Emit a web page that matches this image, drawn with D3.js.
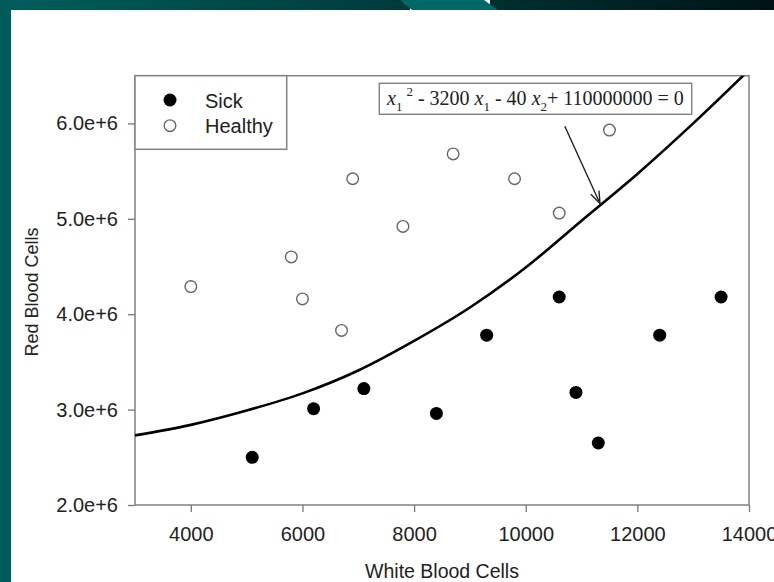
<!DOCTYPE html>
<html>
<head>
<meta charset="utf-8">
<script src="https://cdn.jsdelivr.net/npm/d3@7"></script>
<style>
  body { margin: 0; background: #fff; }
  text { font-family: "Liberation Sans", Arial, sans-serif; }
</style>
</head>
<body>
<script>
// data
const sickX = [5100, 6200, 7100, 8400, 9300, 10600, 10900, 11300, 12400, 13500];
const sickY = [2.50e6, 3.01e6, 3.22e6, 2.96e6, 3.78e6, 4.18e6, 3.18e6, 2.65e6, 3.78e6, 4.18e6];
const healthyX = [4000, 5800, 6000, 6700, 6900, 7800, 8700, 9800, 10600, 11500];
const healthyY = [4.29e6, 4.60e6, 4.16e6, 3.83e6, 5.42e6, 4.92e6, 5.68e6, 5.42e6, 5.06e6, 5.93e6];
// boundary curve
const curveX = [3000, 4000, 5000, 6000, 7000, 8000, 9000, 10000, 11000, 12000, 13000, 14000];
const curveY = [2.73e6, 2.84e6, 2.99e6, 3.17e6, 3.41e6, 3.72e6, 4.07e6, 4.49e6, 4.98e6, 5.47e6, 6.0e6, 6.56e6];
const xTicks = [4000, 6000, 8000, 10000, 12000, 14000];
const yTicks = [2e6, 3e6, 4e6, 5e6, 6e6];
const legendLabels = ["Sick", "Healthy"];
const arrowFrom = [10700, 5.97e6];
const arrowTo = [11330, 5.16e6];

const W = 774, H = 582;
const plot = {left: 135, right: 749, top: 75.7, bottom: 505};

const svg = d3.select("body").append("svg")
    .attr("width", W)
    .attr("height", H);

// slide background
const defs = svg.append("defs");
const gl = defs.append("linearGradient").attr("id", "gl");
gl.append("stop").attr("offset", "0%").attr("stop-color", "#005e5c");
gl.append("stop").attr("offset", "100%").attr("stop-color", "#003a3b");
const gr = defs.append("linearGradient").attr("id", "gr");
gr.append("stop").attr("offset", "0%").attr("stop-color", "#00302f");
gr.append("stop").attr("offset", "100%").attr("stop-color", "#001316");
defs.append("clipPath").attr("id", "clip")
  .append("rect")
    .attr("x", plot.left).attr("y", plot.top)
    .attr("width", plot.right - plot.left).attr("height", plot.bottom - plot.top);

svg.append("rect").attr("width", W).attr("height", H).attr("fill", "#fff");
svg.append("rect").attr("x", 0).attr("y", 0).attr("width", 410).attr("height", 10).attr("fill", "url(#gl)");
svg.append("rect").attr("x", 490).attr("y", 0).attr("width", W - 490).attr("height", 10).attr("fill", "url(#gr)");
svg.append("path").attr("d", "M400,0 L484,0 L498,10 L412,10 Z").attr("fill", "#006869");
svg.append("rect").attr("x", 0).attr("y", 0).attr("width", 11).attr("height", H).attr("fill", "#005c5a");

// scales
const x = d3.scaleLinear().domain([3000, 14000]).range([plot.left, plot.right]);
const y = d3.scaleLinear().domain([2e6, 6.5e6]).range([plot.bottom, plot.top]);

// axes
const xAxis = svg.append("g")
    .attr("transform", "translate(0," + plot.bottom + ")")
    .call(d3.axisBottom(x).tickValues(xTicks).tickSize(7).tickSizeOuter(0).tickPadding(15)
      .tickFormat(d3.format("d")));
const yAxis = svg.append("g")
    .attr("transform", "translate(" + plot.left + ",0)")
    .call(d3.axisLeft(y).tickValues(yTicks).tickSize(7).tickSizeOuter(0).tickPadding(10)
      .tickFormat(d => (d / 1e6).toFixed(1) + "e+6"));
[xAxis, yAxis].forEach(g => {
  g.select(".domain").remove();
  g.selectAll(".tick line").attr("stroke", "#777").attr("stroke-width", 1.3);
  g.selectAll(".tick text")
    .attr("fill", "#222")
    .style("font-family", "'Liberation Sans', Arial, sans-serif")
    .style("font-size", "20px");
});

// frame
svg.append("rect")
    .attr("x", plot.left).attr("y", plot.top)
    .attr("width", plot.right - plot.left).attr("height", plot.bottom - plot.top)
    .attr("fill", "none").attr("stroke", "#808080").attr("stroke-width", 1.5);

// axis titles
svg.append("text")
    .attr("x", (plot.left + plot.right) / 2)
    .attr("y", 578)
    .attr("text-anchor", "middle")
    .attr("fill", "#222")
    .style("font-size", "19.5px")
    .text("White Blood Cells");
svg.append("text")
    .attr("transform", "translate(38,292)rotate(-90)")
    .attr("text-anchor", "middle")
    .attr("fill", "#222")
    .style("font-size", "18px")
    .text("Red Blood Cells");

// boundary curve
const curveData = curveX.map((v, i) => [v, curveY[i]]);
svg.append("path")
    .datum(curveData)
    .attr("clip-path", "url(#clip)")
    .attr("fill", "none")
    .attr("stroke", "#000")
    .attr("stroke-width", 2.6)
    .attr("d", d3.line().x(d => x(d[0])).y(d => y(d[1])).curve(d3.curveCatmullRom));

// points
svg.append("g").selectAll("circle")
    .data(healthyX.map((v, i) => [v, healthyY[i]]))
    .join("circle")
    .attr("cx", d => x(d[0])).attr("cy", d => y(d[1]))
    .attr("r", 5.8)
    .attr("fill", "#fff").attr("stroke", "#666").attr("stroke-width", 1.4);
svg.append("g").selectAll("circle")
    .data(sickX.map((v, i) => [v, sickY[i]]))
    .join("circle")
    .attr("cx", d => x(d[0])).attr("cy", d => y(d[1]))
    .attr("r", 6.5)
    .attr("fill", "#000");

// legend
svg.append("rect")
    .attr("x", plot.left).attr("y", plot.top)
    .attr("width", 151.7).attr("height", 73.6)
    .attr("fill", "#fff").attr("stroke", "#808080").attr("stroke-width", 1.5);
legendLabels.forEach((lab, i) => {
  const cy = 100 + i * 25.7;
  svg.append("circle")
      .attr("cx", 170).attr("cy", cy)
      .attr("r", i === 0 ? 6.5 : 5.8)
      .attr("fill", i === 0 ? "#000" : "#fff")
      .attr("stroke", i === 0 ? "none" : "#666")
      .attr("stroke-width", 1.4);
  svg.append("text")
      .attr("x", 205).attr("y", cy + 7.5)
      .attr("fill", "#222")
      .style("font-size", "20px")
      .text(lab);
});

// equation label
svg.append("rect")
    .attr("x", 379.3).attr("y", 83.3)
    .attr("width", 312.4).attr("height", 31)
    .attr("fill", "#fff").attr("stroke", "#808080").attr("stroke-width", 1.4);
const eq = svg.append("text")
    .attr("x", 387).attr("y", 104.5)
    .attr("fill", "#222")
    .style("font-family", "'Liberation Serif', 'Times New Roman', serif")
    .style("font-size", "20px");
const parts = [
  ["x", "it"], ["1", "sub"], ["2", "sup"], [" - 3200 ", ""],
  ["x", "it"], ["1", "sub"], [" - 40 ", ""],
  ["x", "it"], ["2", "sub"], ["+ 110000000 = 0", ""]
];
let shift = 0;
parts.forEach((p, i) => {
  const t = eq.append("tspan").text(p[0]);
  let target = 0;
  if (p[1] === "it") t.style("font-style", "italic");
  if (p[1] === "sub") { target = 6; t.style("font-size", "13px"); }
  if (p[1] === "sup") { target = -9; t.style("font-size", "13px").attr("dx", 4); }
  t.attr("dy", target - shift);
  shift = target;
});

// arrow
const ax0 = x(arrowFrom[0]), ay0 = y(arrowFrom[1]);
const ax1 = x(arrowTo[0]), ay1 = y(arrowTo[1]);
svg.append("line")
    .attr("x1", ax0).attr("y1", ay0).attr("x2", ax1).attr("y2", ay1)
    .attr("stroke", "#222").attr("stroke-width", 1.4);
const ang = Math.atan2(ay1 - ay0, ax1 - ax0);
[-0.35, 0.35].forEach(da => {
  svg.append("line")
      .attr("x1", ax1).attr("y1", ay1)
      .attr("x2", ax1 - 13 * Math.cos(ang + da))
      .attr("y2", ay1 - 13 * Math.sin(ang + da))
      .attr("stroke", "#222").attr("stroke-width", 1.4);
});
</script>
</body>
</html>
